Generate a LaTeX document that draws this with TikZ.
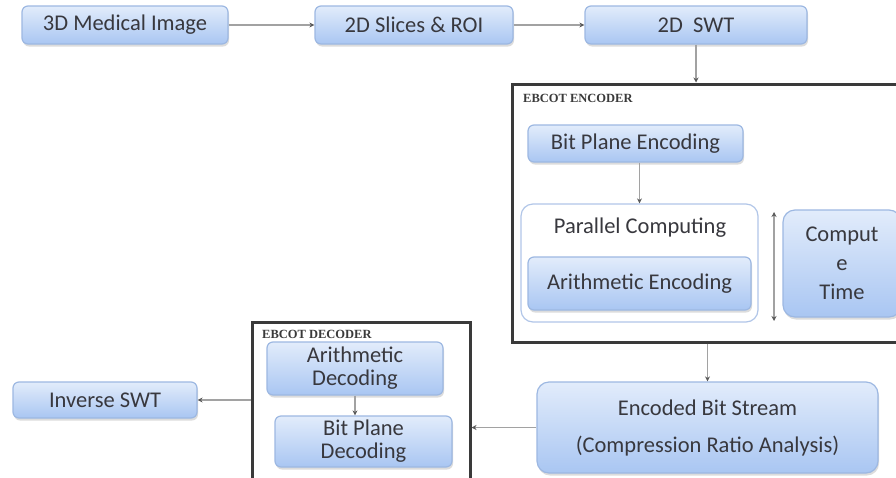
\documentclass[tikz,border=0pt]{standalone}
\usepackage{fontspec}
\setmainfont{Carlito}
\newfontfamily\labelfont{Liberation Serif}
\usetikzlibrary{arrows.meta,shadows,calc}

\definecolor{boxtop}{HTML}{E2ECFB}
\definecolor{boxbot}{HTML}{A9C6F2}
\definecolor{boxedge}{HTML}{9DB8E2}
\definecolor{txt}{HTML}{38383E}
\definecolor{linegray}{HTML}{A2A2A2}
\definecolor{tipgray}{HTML}{5A5A5A}
\definecolor{framegray}{HTML}{3A3A3A}

\tikzset{
  procbox/.style={draw=boxedge, line width=1.2pt, rounded corners=6pt,
    top color=boxtop, bottom color=boxbot, text=txt, inner sep=0pt,
    align=center, font=\fontsize{22.5}{29}\selectfont,
    drop shadow={shadow xshift=1pt, shadow yshift=-2.5pt, fill=black!30, opacity=0.45}},
  groupframe/.style={draw=framegray, line width=3pt, fill=white, inner sep=0pt},
  grouplabel/.style={anchor=west, text=framegray, inner sep=0pt,
    font=\labelfont\bfseries\fontsize{12.5}{14}\selectfont},
  flow/.style={draw=linegray, line width=1.8pt,
    -{Stealth[length=5pt,width=5pt,color=tipgray]}},
  twoway/.style={draw=linegray, line width=1.8pt,
    {Stealth[length=5pt,width=5pt,color=tipgray]}-{Stealth[length=5pt,width=5pt,color=tipgray]}}
}

\begin{document}
\begin{tikzpicture}[x=1pt,y=-1pt]
\clip (0,0) rectangle (896,477);
\useasboundingbox (0,0) rectangle (896,477);
\fill[white] (0,0) rectangle (896,477);

% top row
\node[procbox, minimum width=206, minimum height=38] (med) at (125,25) {3D Medical Image};
\node[procbox, minimum width=198, minimum height=38] (slices) at (414,25) {2D Slices \& ROI};
\node[procbox, minimum width=222, minimum height=38] (swt) at (696,25) {2D\ \ SWT};

% encoder group
\node[groupframe, minimum width=393, minimum height=258] (enc) at (708.5,213) {};
\node[grouplabel] (enclabel) at (523,98) {EBCOT ENCODER};
\node[procbox, minimum width=215, minimum height=37] (bpe) at (635.5,143.5) {Bit Plane Encoding};
\node[draw=boxedge!80, line width=1.2pt, rounded corners=12pt, fill=white,
      minimum width=237, minimum height=118, inner sep=0pt] (par) at (639.5,263) {};
\node[text=txt, font=\fontsize{22.5}{29}\selectfont, inner sep=0pt] (partitle) at (640,228) {Parallel Computing};
\node[procbox, minimum width=223, minimum height=53] (ae) at (639.5,283.5) {Arithmetic Encoding};
\node[procbox, rounded corners=12pt, minimum width=118, minimum height=107] (ct) at (842,263.5)
  {Comput\\e\\Time};
\coordinate (ttop) at (774,212);
\coordinate (tbot) at (774,321);

% encoded stream
\node[procbox, rounded corners=12pt, minimum width=341, minimum height=91,
      font=\fontsize{22.5}{37}\selectfont] (ebs) at (707.5,427.5)
  {Encoded Bit Stream\\(Compression Ratio Analysis)};

% decoder group
\node[groupframe, minimum width=218, minimum height=168] (dec) at (361,406) {};
\node[grouplabel] (declabel) at (262,334) {EBCOT DECODER};
\node[procbox, minimum width=176, minimum height=53, font=\fontsize{22.5}{23}\selectfont] (ad) at (355,368.5)
  {Arithmetic\\Decoding};
\node[procbox, minimum width=177, minimum height=51, font=\fontsize{22.5}{23}\selectfont] (bpd) at (363.5,441.5)
  {Bit Plane\\Decoding};

\node[procbox, minimum width=184, minimum height=36] (inv) at (105,400) {Inverse SWT};

% connectors
\draw[flow] (med.east) -- (slices.west);
\draw[flow] (slices.east) -- (swt.west);
\draw[flow] (swt.south) -- (swt.south |- enc.north);
\draw[flow] (par.north |- bpe.south) -- (par.north);
\draw[twoway] (ttop) -- (tbot);
\draw[flow] (ebs.north |- enc.south) -- (ebs.north);
\draw[flow] (ebs.west) -- (ebs.west -| dec.east);
\draw[flow] (dec.west |- inv.east) -- (inv.east);
\draw[flow] (ad.south) -- (ad.south |- bpd.north);
\end{tikzpicture}
\end{document}
